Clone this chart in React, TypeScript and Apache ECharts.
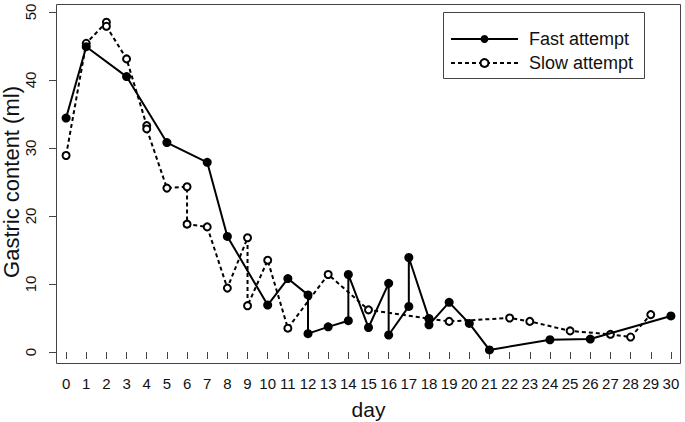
import React, { useEffect, useRef } from "react";
import * as echarts from "echarts";

const days: string[] = Array.from({ length: 31 }, (_, i) => String(i));
const yTicks = { min: 0, max: 50, interval: 10 };

const fastAttempt: [number, number][] = [
  [0, 34.4], [1, 44.9], [3, 40.5], [5, 30.8], [7, 27.9], [8, 17.0], [10, 6.9],
  [11, 10.8], [12, 8.4], [12, 2.7], [13, 3.7], [14, 4.6], [14, 11.4], [15, 3.6],
  [16, 10.1], [16, 2.5], [17, 6.7], [17, 13.9], [18, 4.9], [18, 4.0], [19, 7.3],
  [20, 4.2], [21, 0.3], [24, 1.8], [26, 1.9], [30, 5.3],
];

const slowAttempt: [number, number][] = [
  [0, 28.9], [1, 45.4], [2, 48.5], [2, 47.9], [3, 43.1], [4, 33.3], [4, 32.8],
  [5, 24.1], [6, 24.3], [6, 18.8], [7, 18.4], [8, 9.4], [9, 16.8], [9, 6.8],
  [10, 13.5], [11, 3.5], [13, 11.4], [15, 6.2], [18, 4.9], [19, 4.5], [22, 5.0],
  [23, 4.5], [25, 3.1], [27, 2.6], [28, 2.2], [29, 5.5],
];

const FONT = "'Liberation Sans', Arial, sans-serif";

export default function App() {
  const ref = useRef<HTMLDivElement>(null);
  useEffect(() => {
    if (!ref.current) return;
    const chart = echarts.init(ref.current, undefined, { renderer: "svg" });
    chart.setOption({
      animation: false,
      backgroundColor: "#fff",
      textStyle: { fontFamily: FONT, color: "#111" },
      grid: { left: 56, right: 4, top: 12, bottom: 70, containLabel: false, outerBoundsMode: "none" },
      graphic: [
        {
          type: "rect",
          shape: { x: 56.5, y: 4.5, width: 624, height: 359 },
          style: { fill: "none", stroke: "#444", lineWidth: 1 },
          silent: true,
        },
        {
          type: "rect",
          shape: { x: 443.5, y: 12.5, width: 201, height: 66 },
          style: { fill: "none", stroke: "#444", lineWidth: 1 },
          silent: true,
        },
      ],
      legend: {
        orient: "vertical",
        left: 450,
        top: 30,
        padding: 0,
        itemWidth: 67,
        itemHeight: 10,
        itemGap: 6,
        data: ["Fast attempt", "Slow attempt"],
        textStyle: { fontFamily: FONT, fontSize: 18, color: "#111", padding: [0, 0, 0, 6] },
      },
      xAxis: {
        type: "category",
        data: days,
        boundaryGap: true,
        offset: 12,
        name: "day",
        nameLocation: "middle",
        nameGap: 35,
        nameMoveOverlap: false,
        nameTextStyle: { fontFamily: FONT, fontSize: 21, color: "#111" },
        axisLine: { show: false },
        axisTick: { show: true, alignWithLabel: true, length: 7, lineStyle: { color: "#444" } },
        axisLabel: { interval: 0, margin: 12, fontSize: 15, fontFamily: FONT, color: "#111" },
        splitLine: { show: false },
      },
      yAxis: {
        type: "value",
        min: yTicks.min,
        max: yTicks.max,
        interval: yTicks.interval,
        name: "Gastric content (ml)",
        nameLocation: "middle",
        nameRotate: 90,
        nameGap: 34,
        nameMoveOverlap: false,
        nameTextStyle: { fontFamily: FONT, fontSize: 22, color: "#111" },
        axisLine: { show: false },
        axisTick: { show: true, length: 7, lineStyle: { color: "#444" } },
        axisLabel: { rotate: 90, margin: 18, fontSize: 15, fontFamily: FONT, color: "#111" },
        splitLine: { show: false },
      },
      series: [
        {
          name: "Fast attempt",
          type: "line",
          data: fastAttempt,
          z: 4,
          clip: false,
          symbol: "circle",
          symbolSize: 9,
          itemStyle: { color: "#000" },
          lineStyle: { color: "#000", width: 2 },
        },
        {
          name: "Slow attempt",
          type: "line",
          data: slowAttempt,
          z: 3,
          clip: false,
          symbol: "emptyCircle",
          symbolSize: 7,
          itemStyle: { color: "#000", borderColor: "#000", borderWidth: 1.2 },
          lineStyle: { color: "#000", width: 2, type: [4, 3] },
        },
      ],
    });
    return () => chart.dispose();
  }, []);
  return (
    <div
      ref={ref}
      style={{ position: "fixed", left: 0, top: 0, width: 685, height: 422 }}
    />
  );
}
